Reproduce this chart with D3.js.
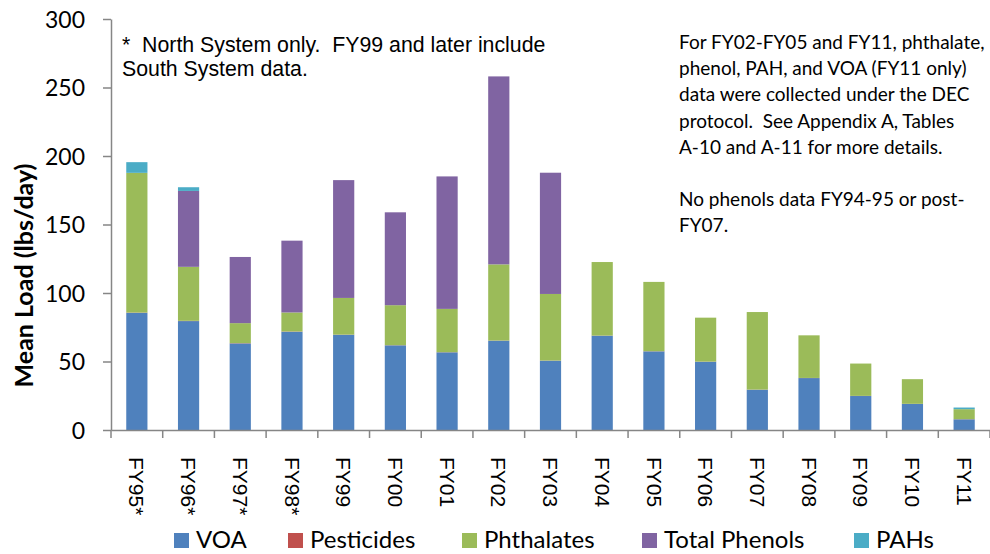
<!DOCTYPE html>
<html><head><meta charset="utf-8">
<script src="https://cdn.jsdelivr.net/npm/d3@7"></script>
<style>body{margin:0;background:#fff}svg{display:block}</style>
</head><body><svg id="c" width="990" height="554"></svg>
<script>
const categories = ["FY95*","FY96*","FY97*","FY98*","FY99","FY00","FY01","FY02","FY03","FY04","FY05","FY06","FY07","FY08","FY09","FY10","FY11"];
const seriesNames = ["VOA","Pesticides","Phthalates","Total Phenols","PAHs"];
const voa        = [85.5, 79.5, 63.2, 71.7, 69.5, 61.8, 56.7, 65.2, 50.6, 68.8, 57.4, 49.8, 29.4, 37.9, 24.8, 19.0, 7.8];
const pesticides = [0.2, 0.2, 0.2, 0.2, 0.1, 0.1, 0.1, 0.1, 0.1, 0.1, 0.1, 0.1, 0.1, 0.1, 0.1, 0.1, 0.1];
const phthalates = [102.0, 39.4, 14.6, 13.9, 26.8, 29.2, 31.6, 55.6, 48.6, 53.7, 50.6, 32.1, 56.6, 31.1, 23.6, 18.0, 7.3];
const phenols    = [0, 55.4, 48.3, 52.4, 86.0, 67.8, 96.7, 137.2, 88.5, 0, 0, 0, 0, 0, 0, 0, 0];
const pahs       = [7.8, 2.7, 0, 0, 0, 0, 0, 0, 0, 0, 0, 0, 0, 0, 0, 0, 1.2];
const yTicks = [0, 50, 100, 150, 200, 250, 300];
const colors = ["#4F81BD","#C0504D","#9BBB59","#8064A2","#4BACC6"];
const noteLeft = ["*  North System only.  FY99 and later include","South System data."];
const noteRight = ["For FY02-FY05 and FY11, phthalate,","phenol, PAH, and VOA (FY11 only)","data were collected under the DEC","protocol.  See Appendix A, Tables","A-10 and A-11 for more details.","","No phenols data FY94-95 or post-","FY07."];

const svg = d3.select("#c");
const calib = "Lato, 'Open Sans', sans-serif";
const arial = "'Liberation Sans', Arial, sans-serif";
const mLeft = 111, mRight = 990, mTop = 19, mBottom = 430;
const x = d3.scaleBand().domain(categories).range([mLeft, mRight]).padding(0);
const y = d3.scaleLinear().domain([0, 300]).range([mBottom, mTop]);
const axisColor = "#868686";

const rows = categories.map((c, i) => ({cat: c, VOA: voa[i], Pesticides: pesticides[i], Phthalates: phthalates[i], "Total Phenols": phenols[i], PAHs: pahs[i]}));
const stacked = d3.stack().keys(seriesNames)(rows);
const bw = x.bandwidth() * 0.41;

svg.append("g").selectAll("g").data(stacked).join("g")
  .attr("fill", (d, i) => colors[i])
  .selectAll("rect").data(d => d).join("rect")
  .attr("x", d => x(d.data.cat) + (x.bandwidth() - bw) / 2)
  .attr("width", bw)
  .attr("y", d => y(d[1]))
  .attr("height", d => Math.max(0, y(d[0]) - y(d[1])));

// Y axis
const yAxis = svg.append("g").attr("transform", `translate(${mLeft},0)`)
  .call(d3.axisLeft(y).tickValues(yTicks).tickSize(8).tickSizeOuter(0).tickPadding(18));
yAxis.select(".domain").attr("stroke", axisColor).attr("stroke-width", 1.5);
yAxis.selectAll(".tick line").attr("stroke", axisColor).attr("stroke-width", 1.5);
yAxis.selectAll(".tick text").attr("font-family", calib).attr("font-size", 23).attr("fill", "#000").attr("dy", "0.35em");

// X axis
const xAxis = svg.append("g").attr("transform", `translate(0,${mBottom})`)
  .call(d3.axisBottom(x).tickSize(0).tickSizeOuter(0).tickFormat(""));
xAxis.select(".domain").attr("stroke", axisColor).attr("stroke-width", 1.5);
xAxis.selectAll(".tick").remove();
const bounds = categories.map(c => x(c)).concat([mRight]);
xAxis.selectAll("line.b").data(bounds).join("line").attr("class", "b")
  .attr("x1", d => d).attr("x2", d => d).attr("y1", 0).attr("y2", 8)
  .attr("stroke", axisColor).attr("stroke-width", 1.5);
xAxis.selectAll("text.lbl").data(categories).join("text").attr("class", "lbl")
  .attr("transform", d => `translate(${x(d) + x.bandwidth() / 2},27) rotate(90)`)
  .attr("dy", "0.35em")
  .attr("text-anchor", "start")
  .attr("font-family", arial).attr("font-size", 21).attr("fill", "#000")
  .text(d => d);

// Y title
svg.append("text")
  .attr("transform", `translate(33,${(163 + 388) / 2}) rotate(-90)`)
  .attr("text-anchor", "middle")
  .attr("font-family", calib).attr("font-weight", "bold").attr("font-size", 25)
  .text("Mean Load (lbs/day)");

// Notes
svg.append("g").selectAll("text").data(noteLeft).join("text")
  .attr("x", 122).attr("y", (d, i) => 52 + i * 24)
  .attr("font-family", arial).attr("font-size", 21.3)
  .style("white-space", "pre")
  .text(d => d);
svg.append("g").selectAll("text").data(noteRight).join("text")
  .attr("x", 679).attr("y", (d, i) => 49 + i * 26.2)
  .attr("font-family", calib).attr("font-size", 19)
  .style("white-space", "pre")
  .text(d => d);

// Legend
const legX = [174, 288, 462, 642, 854];
const leg = svg.append("g").selectAll("g").data(seriesNames).join("g")
  .attr("transform", (d, i) => `translate(${legX[i]},533)`);
leg.append("rect").attr("width", 15).attr("height", 15).attr("fill", (d, i) => colors[i]);
leg.append("text").attr("x", 22).attr("y", 15)
  .attr("font-family", calib).attr("font-size", 24).text(d => d);
</script></body></html>
